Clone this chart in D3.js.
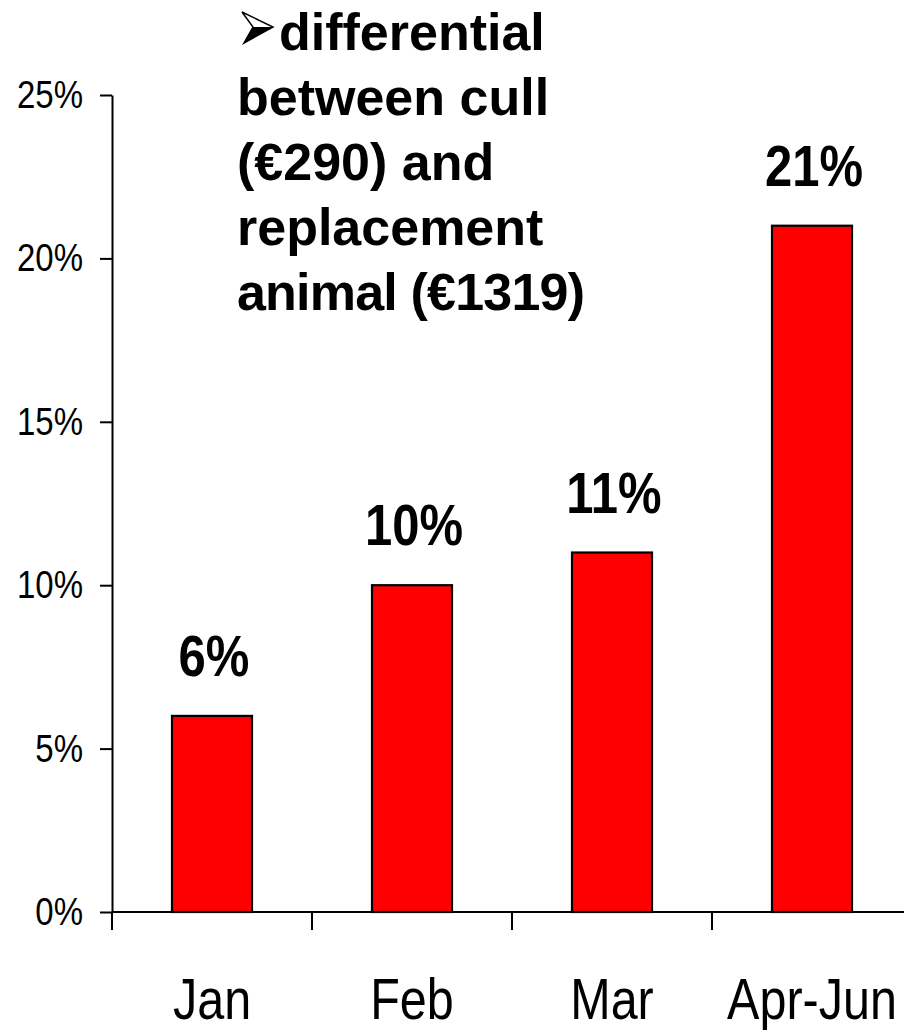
<!DOCTYPE html>
<html>
<head>
<meta charset="utf-8">
<script src="https://cdn.jsdelivr.net/npm/d3@7"></script>
<style>
  html, body { margin: 0; padding: 0; background: #fff; }
  svg { display: block; font-family: "Liberation Sans", Arial, sans-serif; }
</style>
</head>
<body>
<svg id="chart" width="904" height="1030"></svg>
<script>
// Share of animals, by period
const categories = ["Jan", "Feb", "Mar", "Apr-Jun"];
const values = [0.06, 0.10, 0.11, 0.21];
const valueLabels = ["6%", "10%", "11%", "21%"];
const yTicks = [0, 0.05, 0.10, 0.15, 0.20, 0.25];
const titleLines = [
  "differential",
  "between cull",
  "(\u20AC290) and",
  "replacement",
  "animal (\u20AC1319)"
];

const svg = d3.select("#chart");
const stretch = 1.18;   // tall, narrow lettering

const x = d3.scaleBand()
  .domain(categories)
  .range([112, 912])
  .paddingInner(0.6)
  .paddingOuter(0.3);

const y = d3.scaleLinear()
  .domain([0, 0.25])
  .range([912, 95]);

// Y axis
const yAxis = svg.append("g")
  .attr("transform", "translate(112,0)")
  .call(d3.axisLeft(y)
    .tickValues(yTicks)
    .tickFormat(d3.format(".0%"))
    .tickSize(12)
    .tickSizeOuter(0)
    .tickPadding(17));
yAxis.select(".domain").attr("stroke", "#000").attr("stroke-width", 2);
yAxis.selectAll(".tick line").attr("stroke", "#000").attr("stroke-width", 2);
yAxis.selectAll(".tick text")
  .attr("font-family", "Liberation Sans, Arial, sans-serif")
  .attr("font-size", 33)
  .attr("fill", "#000")
  .attr("transform", `scale(1,${stretch})`);

// Bars
svg.append("g").selectAll("rect")
  .data(values)
  .join("rect")
  .attr("x", (d, i) => x(categories[i]))
  .attr("y", d => y(d))
  .attr("width", x.bandwidth())
  .attr("height", d => y(0) - y(d))
  .attr("fill", "#FF0000")
  .attr("stroke", "#000")
  .attr("stroke-width", 2.2);

// X axis line with ticks on category boundaries
const step = x.step();
svg.append("line")
  .attr("x1", 112).attr("x2", 912)
  .attr("y1", y(0)).attr("y2", y(0))
  .attr("stroke", "#000").attr("stroke-width", 2);
svg.append("g").selectAll("line")
  .data(categories)
  .join("line")
  .attr("x1", d => x(d) - x.paddingOuter() * step)
  .attr("x2", d => x(d) - x.paddingOuter() * step)
  .attr("y1", y(0))
  .attr("y2", y(0) + 18)
  .attr("stroke", "#000").attr("stroke-width", 2);

// Category labels
svg.append("g").selectAll("text")
  .data(categories)
  .join("text")
  .attr("transform", d => `translate(${x(d) + x.bandwidth() / 2},1019) scale(1,${stretch + 0.02})`)
  .attr("text-anchor", "middle")
  .attr("font-size", 48.5)
  .attr("fill", "#000")
  .text(d => d);

// Value labels above bars
svg.append("g").selectAll("text")
  .data(values)
  .join("text")
  .attr("transform", (d, i) => `translate(${x(categories[i]) + x.bandwidth() / 2 + 2},${y(d) - 40}) scale(1,${stretch})`)
  .attr("text-anchor", "middle")
  .attr("font-size", 49)
  .attr("font-weight", "bold")
  .attr("fill", "#000")
  .text((d, i) => valueLabels[i]);

// Bulleted annotation
const note = svg.append("g").attr("transform", "translate(237,0)");
note.selectAll("text")
  .data(titleLines)
  .join("text")
  .attr("x", (d, i) => i === 0 ? 42 : 0)
  .attr("y", (d, i) => 50 + i * 65)
  .attr("font-size", 52)
  .attr("font-weight", "bold")
  .attr("letter-spacing", (d, i) => i === 4 ? -0.8 : 0)
  .attr("fill", "#000")
  .text(d => d);

// Arrowhead bullet
const bullet = note.append("g").attr("transform", "translate(5,12)");
bullet.append("path")
  .attr("d", "M0,0 L31,15 L2,31 L11,15 Z")
  .attr("fill", "none")
  .attr("stroke", "#000")
  .attr("stroke-width", 1.5)
  .attr("stroke-linejoin", "miter");
bullet.append("path")
  .attr("d", "M11,15 L31,15 L2,31 Z")
  .attr("fill", "#000");
</script>
</body>
</html>
